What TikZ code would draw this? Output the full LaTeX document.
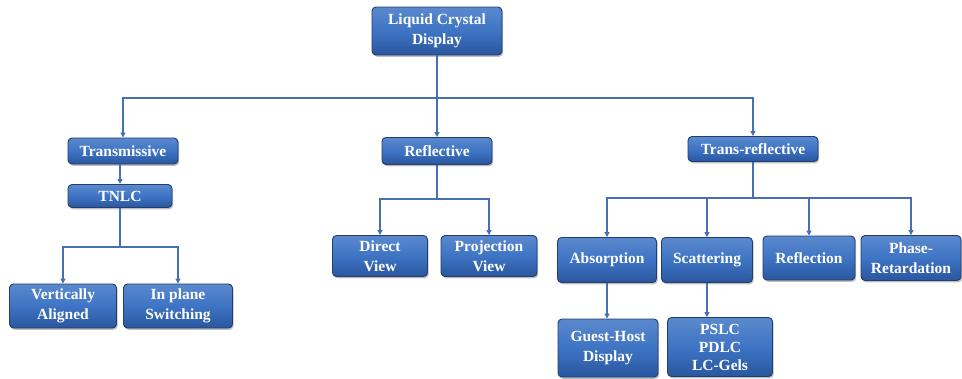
\documentclass[tikz,border=0pt]{standalone}
\usepackage{fontspec}
\setmainfont{Liberation Serif}
\usetikzlibrary{arrows.meta,shadows}

\definecolor{boxblue}{RGB}{62,116,196}
\definecolor{boxdark}{RGB}{42,86,158}
\definecolor{boxedge}{RGB}{34,62,110}
\definecolor{linkblue}{RGB}{70,112,180}

\tikzset{
  lcbox/.style={draw=boxedge, line width=0.9pt, rounded corners=4pt,
    top color=boxblue!85!white, bottom color=boxdark, middle color=boxblue,
    drop shadow={shadow xshift=1.2pt, shadow yshift=-1.8pt, opacity=0.5},
    text=white, font=\bfseries\fontsize{15.5}{20}\selectfont, align=center,
    inner sep=2pt},
  link/.style={draw=linkblue, line width=1.4pt},
  arr/.style={link, -{Triangle[width=5pt,length=5pt]}}
}

\begin{document}
\begin{tikzpicture}[x=1pt,y=-1pt]
    \useasboundingbox[fill=white] (0,0) rectangle (962,378);
    % top
    \node[lcbox, minimum width=130, minimum height=48] (lcd) at (437,31) {Liquid Crystal\\Display};
    % second level
    \node[lcbox, minimum width=110, minimum height=26] (trans) at (123,151) {Transmissive};
    \node[lcbox, minimum width=110, minimum height=27] (refl)  at (437,151) {Reflective};
    \node[lcbox, minimum width=130, minimum height=25] (trf)   at (753,149) {Trans-reflective};
    % transmissive branch
    \node[lcbox, minimum width=104, minimum height=23] (tnlc) at (120,196) {TNLC};
    \node[lcbox, minimum width=107, minimum height=44] (vert) at (63,306)  {Vertically\\Aligned};
    \node[lcbox, minimum width=109, minimum height=44] (ips)  at (178,306) {In plane\\Switching};
    % reflective branch
    \node[lcbox, minimum width=95, minimum height=41] (dir)  at (380,256) {Direct\\View};
    \node[lcbox, minimum width=96, minimum height=41] (proj) at (489,256) {Projection\\View};
    % trans-reflective branch
    \node[lcbox, minimum width=99, minimum height=45] (abs)   at (607,260) {Absorption};
    \node[lcbox, minimum width=91, minimum height=45] (scat)  at (707,260) {Scattering};
    \node[lcbox, minimum width=92, minimum height=44] (rfl)   at (809,258) {Reflection};
    \node[lcbox, minimum width=100, minimum height=45] (phase) at (911,258) {Phase-\\Retardation};
    \node[lcbox, minimum width=100, minimum height=58] (gh)   at (608,348) {Guest-Host\\Display};
    \node[lcbox, minimum width=105, minimum height=59, inner sep=0pt,
          font=\bfseries\fontsize{15.5}{18}\selectfont] (pslc) at (720,347) {PSLC\\PDLC\\LC-Gels};

    % connectors
    \coordinate (lcdbus) at (437,98);
    \draw[link] (lcd.south) -- (lcdbus);
    \draw[arr] (lcdbus) -| (trans.north);
    \draw[arr] (lcdbus) -- (refl.north);
    \draw[arr] (lcdbus) -| (trf.north);

    \draw[arr] (trans.south -| tnlc.north) -- (tnlc.north);
    \coordinate (tnlcbus) at (120,247);
    \draw[link] (tnlc.south) -- (tnlcbus);
    \draw[arr] (tnlcbus) -| (vert.north);
    \draw[arr] (tnlcbus) -| (ips.north);

    \coordinate (reflbus) at (437,199);
    \draw[link] (refl.south) -- (reflbus);
    \draw[arr] (reflbus) -| (dir.north);
    \draw[arr] (reflbus) -| (proj.north);

    \coordinate (trfbus) at (753,198);
    \draw[link] (trf.south) -- (trfbus);
    \draw[arr] (trfbus) -| (abs.north);
    \draw[arr] (trfbus) -| (scat.north);
    \draw[arr] (trfbus) -| (rfl.north);
    \draw[arr] (trfbus) -| (phase.north);

    \draw[arr] (abs.south) -- (abs.south |- gh.north);
    \draw[arr] (scat.south) -- (scat.south |- pslc.north);
\end{tikzpicture}
\end{document}
